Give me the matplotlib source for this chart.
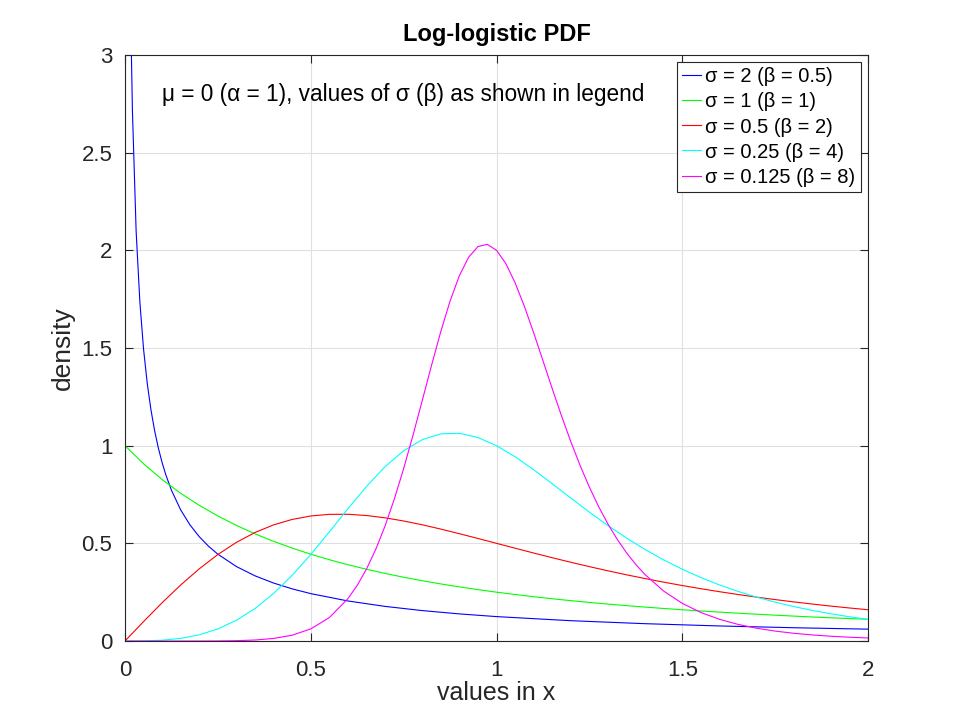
import matplotlib
matplotlib.use("Agg")
import matplotlib.pyplot as plt

plt.rcParams['font.family'] = ['Liberation Sans', 'DejaVu Sans']

# sigma = 2 (beta = 0.5)
x_b05 = [0.01, 0.015, 0.02, 0.03, 0.04, 0.05, 0.06, 0.07, 0.08, 0.09, 0.1, 0.11, 0.125, 0.15,
         0.175, 0.2, 0.225, 0.25, 0.3, 0.35, 0.4, 0.45, 0.5, 0.6, 0.7, 0.8, 0.9, 1.0, 1.2,
         1.4, 1.6, 1.8, 2.0]
y_b05 = [4.132, 3.240, 2.714, 2.097, 1.736, 1.4935, 1.317, 1.1818, 1.0742, 0.9862, 0.9127,
         0.8501, 0.7719, 0.6708, 0.5942, 0.5338, 0.4849, 0.4444, 0.3811, 0.3336, 0.2967,
         0.2670, 0.2426, 0.2050, 0.1772, 0.1558, 0.1388, 0.125, 0.1040, 0.0887, 0.0771,
         0.0680, 0.0607]

# common grid for sigma = 1, 0.5, 0.25
x_grid = [0.0, 0.05, 0.1, 0.15, 0.2, 0.25, 0.3, 0.35, 0.4, 0.45, 0.5, 0.55, 0.6, 0.65, 0.7,
          0.75, 0.8, 0.85, 0.9, 0.95, 1.0, 1.05, 1.1, 1.15, 1.2, 1.25, 1.3, 1.35, 1.4, 1.45,
          1.5, 1.55, 1.6, 1.65, 1.7, 1.75, 1.8, 1.85, 1.9, 1.95, 2.0]

# sigma = 1 (beta = 1)
y_b1 = [1.0, 0.9070, 0.8264, 0.7561, 0.6944, 0.64, 0.5917, 0.5487, 0.5102, 0.4756, 0.4444,
        0.4162, 0.3906, 0.3673, 0.3460, 0.3265, 0.3086, 0.2922, 0.2770, 0.2630, 0.25,
        0.2380, 0.2268, 0.2163, 0.2066, 0.1975, 0.1890, 0.1811, 0.1736, 0.1666, 0.16,
        0.1538, 0.1479, 0.1424, 0.1372, 0.1322, 0.1276, 0.1231, 0.1189, 0.1149, 0.1111]

# sigma = 0.5 (beta = 2)
y_b2 = [0.0, 0.0995, 0.1961, 0.2869, 0.3698, 0.4429, 0.5050, 0.5556, 0.5945, 0.6224, 0.64,
        0.6484, 0.6488, 0.6424, 0.6306, 0.6144, 0.5949, 0.5730, 0.5494, 0.5249, 0.5,
        0.4751, 0.4504, 0.4264, 0.4031, 0.3807, 0.3593, 0.3389, 0.3196, 0.3013, 0.2840,
        0.2678, 0.2525, 0.2381, 0.2247, 0.2121, 0.2003, 0.1892, 0.1788, 0.1691, 0.16]

# sigma = 0.25 (beta = 4)
y_b4 = [0.0, 0.0005, 0.0040, 0.0135, 0.0319, 0.0620, 0.1063, 0.1665, 0.2434, 0.3364, 0.4429,
        0.5586, 0.6771, 0.7909, 0.8922, 0.9738, 1.0307, 1.0604, 1.0632, 1.0416, 1.0,
        0.9434, 0.8768, 0.8050, 0.7317, 0.6597, 0.5910, 0.5270, 0.4682, 0.4150, 0.3673,
        0.3248, 0.2872, 0.2539, 0.2247, 0.1990, 0.1765, 0.1567, 0.1393, 0.1241, 0.1107]

# sigma = 0.125 (beta = 8)
x_b8 = [0.0, 0.1, 0.2, 0.25, 0.3, 0.35, 0.4, 0.45, 0.5, 0.55, 0.6, 0.625, 0.65, 0.675, 0.7,
        0.725, 0.75, 0.775, 0.8, 0.825, 0.85, 0.875, 0.9, 0.925, 0.95, 0.975, 1.0, 1.025,
        1.05, 1.075, 1.1, 1.125, 1.15, 1.175, 1.2, 1.225, 1.25, 1.275, 1.3, 1.325, 1.35,
        1.375, 1.4, 1.45, 1.5, 1.55, 1.6, 1.65, 1.7, 1.75, 1.8, 1.85, 1.9, 1.95, 2.0]
y_b8 = [0.0, 0.0, 0.0001, 0.0005, 0.00175, 0.00514, 0.01309, 0.02979, 0.06201, 0.11978,
        0.21661, 0.28462, 0.36833, 0.46942, 0.58897, 0.72706, 0.88236, 1.05181, 1.23028,
        1.41059, 1.58384, 1.74023, 1.86996, 1.96482, 2.01906, 2.03039, 2.0, 1.93231,
        1.83402, 1.71307, 1.57757, 1.43498, 1.29160, 1.15231, 1.02056, 0.89852, 0.78738,
        0.68748, 0.59863, 0.52026, 0.45156, 0.39166, 0.33962, 0.25552, 0.19276, 0.14602,
        0.11118, 0.08513, 0.06557, 0.05081, 0.03961, 0.03106, 0.02450, 0.01944, 0.01550]

labels = ["σ = 2 (β = 0.5)", "σ = 1 (β = 1)", "σ = 0.5 (β = 2)",
          "σ = 0.25 (β = 4)", "σ = 0.125 (β = 8)"]
colors = ["#0000ff", "#00ff00", "#ff0000", "#00ffff", "#ff00ff"]

xticks = [0, 0.5, 1, 1.5, 2]
xticklabels = ["0", "0.5", "1", "1.5", "2"]
yticks = [0, 0.5, 1, 1.5, 2, 2.5, 3]
yticklabels = ["0", "0.5", "1", "1.5", "2", "2.5", "3"]

dark = "#262626"

fig = plt.figure(figsize=(9.6, 7.2), dpi=100)
ax = fig.add_axes([0.1302, 0.1097, 0.774, 0.814])

series = [(x_b05, y_b05), (x_grid, y_b1), (x_grid, y_b2), (x_grid, y_b4), (x_b8, y_b8)]
for (xs, ys), lab, c in zip(series, labels, colors):
    ax.plot(xs, ys, color=c, lw=0.8, label=lab)

ax.set_xlim(0, 2)
ax.set_ylim(0, 3)
ax.set_xticks(xticks)
ax.set_xticklabels(xticklabels)
ax.set_yticks(yticks)
ax.set_yticklabels(yticklabels)
ax.grid(True, color="#e0e0e0", lw=0.8)
ax.set_axisbelow(True)
ax.tick_params(direction="in", length=6, width=0.8, color=dark, labelcolor=dark,
               labelsize=16, top=True, right=True)
ax.tick_params(axis="x", pad=14)
ax.tick_params(axis="y", pad=9)
for s in ax.spines.values():
    s.set_color(dark)
    s.set_linewidth(0.8)

ax.set_title("Log-logistic PDF", fontsize=17, fontweight="bold", color="black", pad=10)
ax.set_xlabel("values in x", fontsize=18, color=dark, labelpad=0)
ax.set_ylabel("density", fontsize=19, color=dark, labelpad=5)

ax.text(0.1, 2.8, "μ = 0 (α = 1), values of σ (β) as shown in legend",
        fontsize=16.3, color="black", ha="left", va="center")

leg = ax.legend(loc="upper right", fontsize=14.5, frameon=True, fancybox=False,
                framealpha=1, edgecolor=dark, handlelength=0.95, handletextpad=0.2,
                borderpad=0.25, labelspacing=0.3, borderaxespad=0.37)
leg.get_frame().set_linewidth(0.8)

fig.savefig("out.png", dpi=100)
